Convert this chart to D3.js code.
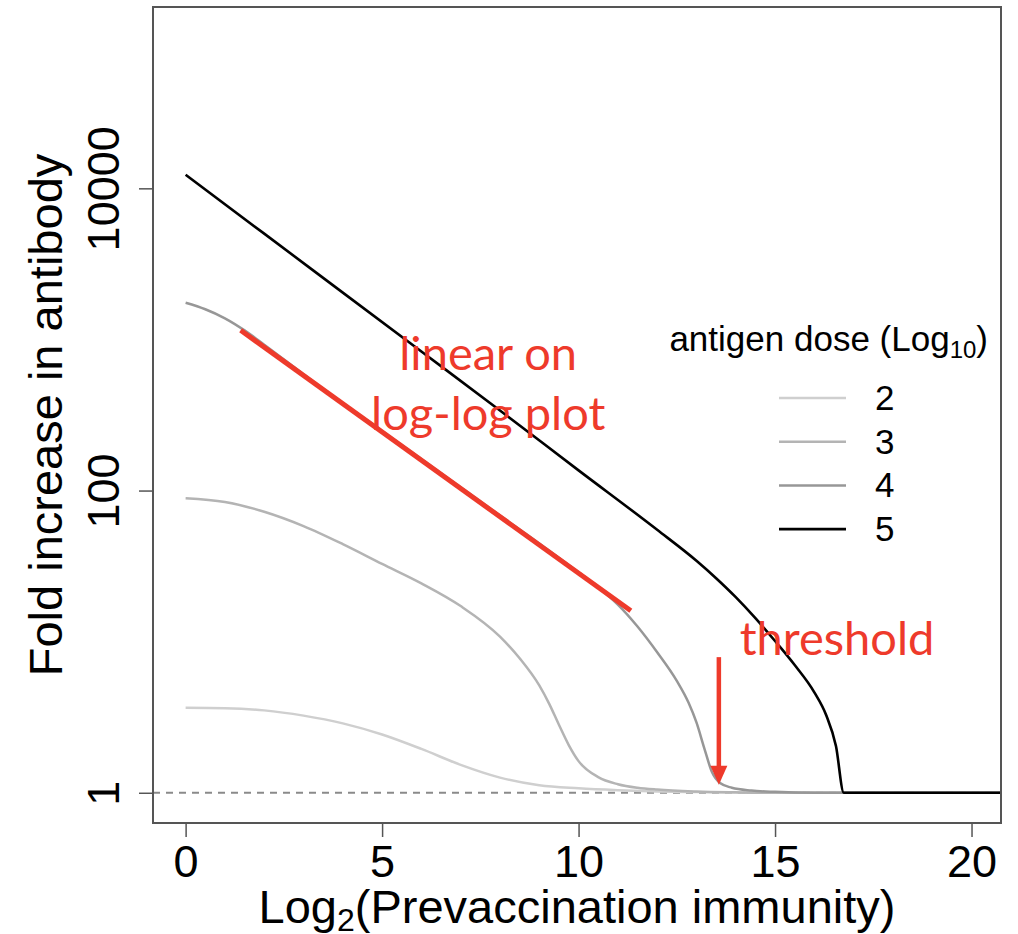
<!DOCTYPE html>
<html>
<head>
<meta charset="utf-8">
<script src="https://cdn.jsdelivr.net/npm/d3@7"></script>
<style>
  body { margin: 0; background: #fff; }
  svg text { font-family: "Liberation Sans", Arial, sans-serif; }
  svg text.anno { font-family: Lato, "Open Sans", sans-serif; }
</style>
</head>
<body>
<svg id="chart" width="1018" height="934"></svg>
<script>
// Log2 prevaccination immunity (x) and fold increase in antibody (y)
var prevac2 = [0,1,2,3,4,5,6,7,8,9,10,11,12,13,14,15,16,17,18,19,20,21]
var fold2   = [3.66,3.63,3.51,3.24,2.88,2.43,1.95,1.53,1.26,1.12,1.07,1.04,1.02,1.01,1.005,1,1,1,1,1,1,1]

var prevac3 = [0,1,2,3,4,5,6,7,8,8.5,9,9.25,9.5,9.75,10,10.5,11,11.5,12,13,14,15,16,18,21]
var fold3   = [89.1,84.1,72.4,58.2,44.2,32.7,24.3,17.2,10.8,7.76,5.13,3.89,2.82,2.07,1.62,1.27,1.14,1.08,1.05,1.02,1.007,1,1,1,1]

var prevac4 = [0,0.5,1,1.5,2,3,4,5,6,7,8,9,10,10.5,11,11.5,12,12.5,12.8,13,13.2,13.4,13.6,13.9,14.4,15,16,18,21]
var fold4   = [1750,1585,1380,1148,923,589,380,248,162,105,68.4,44.7,28.8,22.9,17.6,12.6,8.51,5.50,3.94,2.92,1.97,1.36,1.16,1.08,1.035,1.014,1,1,1]

var prevac5 = [0,2,4,6,8,10,12,13,13.5,14,14.5,15,15.5,16,16.3,16.55,16.75,17,18,21]
var fold5   = [12300,5012,2042,832,339,136,55.0,34.3,26.3,19.7,14.3,10.1,7.0,4.62,3.27,2.04,1,1,1,1]

var doses = ['2','3','4','5']
var doseColors = ['#cfcfcf','#b4b4b4','#979797','#000000']

var xTicks = [0,5,10,15,20]
var yTicks = [1,100,10000]

// annotation positions in data units
var trendX = [1.4, 11.33]
var trendY = [1150, 16]
var arrowX = 13.57
var arrowY = [7.9, 1.13]

var series = [
  {x: prevac2, y: fold2},
  {x: prevac3, y: fold3},
  {x: prevac4, y: fold4},
  {x: prevac5, y: fold5}
]

var svg = d3.select('#chart')
var plot = {l: 153, r: 1001, t: 7, b: 823}
var red = '#ee3a2b'

var xScale = d3.scaleLinear().domain([-0.83, 20.75]).range([plot.l, plot.r])
var yScale = d3.scaleLog().domain([Math.pow(10, -0.2), Math.pow(10, 5.2)]).range([plot.b, plot.t])

svg.append('clipPath').attr('id', 'clip')
  .append('rect')
  .attr('x', plot.l).attr('y', plot.t)
  .attr('width', plot.r - plot.l).attr('height', plot.b - plot.t)

var inner = svg.append('g').attr('clip-path', 'url(#clip)')

// dashed baseline at fold = 1
inner.append('line')
  .attr('x1', plot.l).attr('x2', plot.r)
  .attr('y1', yScale(1)).attr('y2', yScale(1))
  .attr('stroke', '#8a8a8a').attr('stroke-width', 2)
  .attr('stroke-dasharray', '7,6')

var line = d3.line()
  .x(function(d){ return xScale(d[0]) })
  .y(function(d){ return yScale(d[1]) })
  .curve(d3.curveMonotoneX)

series.forEach(function(s, i){
  var pts = s.x.map(function(v, j){ return [v, s.y[j]] })
  inner.append('path')
    .attr('d', line(pts))
    .attr('fill', 'none')
    .attr('stroke', doseColors[i])
    .attr('stroke-width', i == 3 ? 2.6 : 2.5)
})

// box
svg.append('rect')
  .attr('x', plot.l).attr('y', plot.t)
  .attr('width', plot.r - plot.l).attr('height', plot.b - plot.t)
  .attr('fill', 'none').attr('stroke', '#555').attr('stroke-width', 2)

// x axis
var xAxis = svg.append('g').attr('transform', 'translate(0,' + plot.b + ')')
  .call(d3.axisBottom(xScale).tickValues(xTicks).tickSize(14).tickPadding(8).tickFormat(d3.format('d')))
xAxis.select('.domain').remove()
xAxis.selectAll('line').attr('stroke', '#555').attr('stroke-width', 1.5)
xAxis.selectAll('text').attr('font-size', 45).attr('fill', '#000')
  .attr('font-family', '"Liberation Sans", Arial, sans-serif')

// y axis
var yAxis = svg.append('g').attr('transform', 'translate(' + plot.l + ',0)')
  .call(d3.axisLeft(yScale).tickValues(yTicks).tickSize(14).tickFormat(d3.format('d')))
yAxis.select('.domain').remove()
yAxis.selectAll('line').attr('stroke', '#555').attr('stroke-width', 1.5)
yAxis.selectAll('text')
  .attr('font-size', 45).attr('fill', '#000')
  .attr('font-family', '"Liberation Sans", Arial, sans-serif')
  .attr('x', null).attr('dy', null)
  .attr('text-anchor', 'middle')
  .attr('transform', 'translate(-34,0) rotate(-90)')

// axis titles
var xt = svg.append('text')
  .attr('x', (plot.l + plot.r) / 2).attr('y', 923)
  .attr('text-anchor', 'middle').attr('font-size', 47)
xt.append('tspan').text('Log')
xt.append('tspan').attr('font-size', 32).attr('dy', 8).text('2')
xt.append('tspan').attr('dy', -8).text('(Prevaccination immunity)')

svg.append('text')
  .attr('transform', 'translate(62,' + (plot.t + plot.b) / 2 + ') rotate(-90)')
  .attr('text-anchor', 'middle').attr('font-size', 47)
  .text('Fold increase in antibody')

// legend
var lg = svg.append('g')
var lt = lg.append('text').attr('x', 988).attr('y', 351)
  .attr('text-anchor', 'end').attr('font-size', 35)
lt.append('tspan').text('antigen dose (Log')
lt.append('tspan').attr('font-size', 24).attr('dy', 7).text('10')
lt.append('tspan').attr('dy', -7).text(')')

doses.forEach(function(d, i){
  var yy = 398 + i * 43.7
  lg.append('line')
    .attr('x1', 779).attr('x2', 846).attr('y1', yy).attr('y2', yy)
    .attr('stroke', doseColors[i]).attr('stroke-width', i == 3 ? 2.6 : 2.5)
  lg.append('text').attr('x', 875).attr('y', yy + 12)
    .attr('font-size', 35).text(d)
})

// red annotations
svg.append('line')
  .attr('x1', xScale(trendX[0])).attr('y1', yScale(trendY[0]))
  .attr('x2', xScale(trendX[1])).attr('y2', yScale(trendY[1]))
  .attr('stroke', red).attr('stroke-width', 5)

var ax = xScale(arrowX)
var aTop = yScale(arrowY[0]), aTip = yScale(arrowY[1])
svg.append('line')
  .attr('x1', ax).attr('x2', ax).attr('y1', aTop).attr('y2', aTip - 16)
  .attr('stroke', red).attr('stroke-width', 4.5)
svg.append('path')
  .attr('d', 'M' + (ax - 8.5) + ',' + (aTip - 19) + 'L' + (ax + 8.5) + ',' + (aTip - 19) + 'L' + ax + ',' + aTip + 'Z')
  .attr('fill', red)

var anno = svg.append('g').attr('fill', red).attr('font-size', 47)
anno.append('text').attr('class', 'anno').attr('x', xScale(7.7)).attr('y', yScale(628)).attr('text-anchor', 'middle').text('linear on')
anno.append('text').attr('class', 'anno').attr('x', xScale(7.7)).attr('y', yScale(251)).attr('text-anchor', 'middle').text('log-log plot')
anno.append('text').attr('class', 'anno').attr('x', xScale(14.1)).attr('y', yScale(8.18)).text('threshold')
</script>
</body>
</html>
